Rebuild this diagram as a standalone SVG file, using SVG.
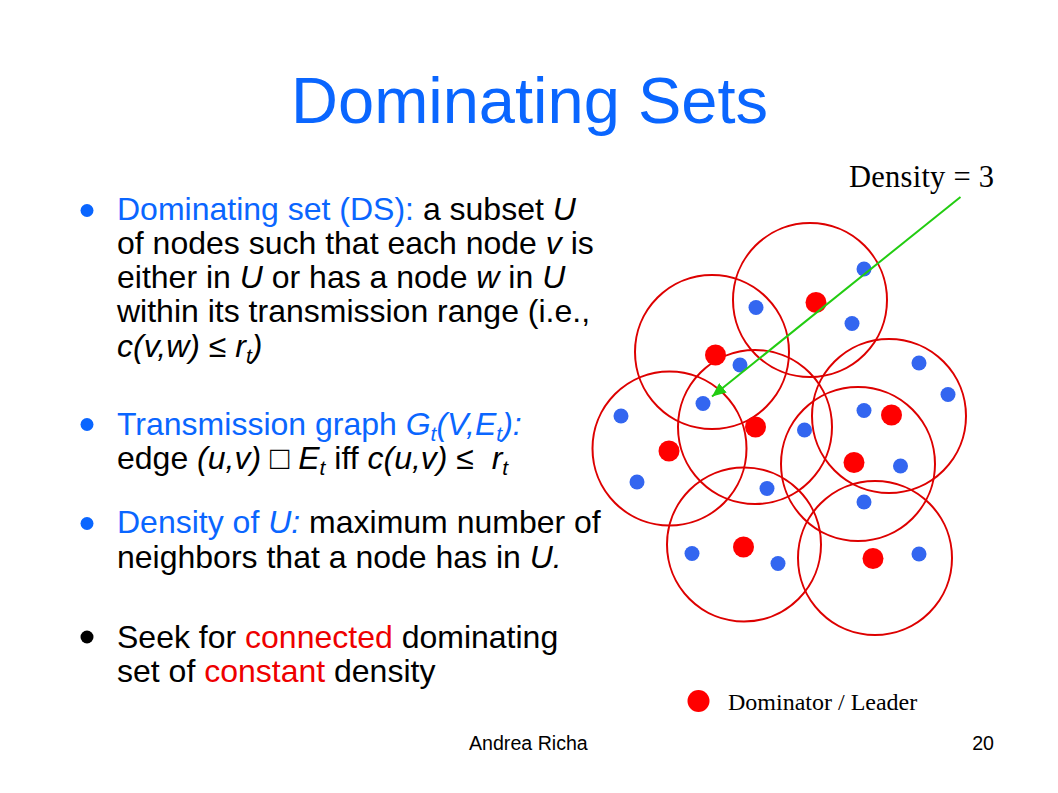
<svg xmlns="http://www.w3.org/2000/svg" width="1058" height="793" viewBox="0 0 1058 793">
<defs>
<style>
.t{font-family:"Liberation Sans",Arial,sans-serif;font-size:32px;fill:#000}
.bl{fill:#0a66ff}
.rd{fill:#ee0000}
.i{font-style:italic}
.sub{font-size:21px}
.ser{font-family:"Liberation Serif","Times New Roman",serif;fill:#000}
.rng{fill:none;stroke:#dd0000;stroke-width:2}
.dom{fill:#ff0000}
.nd{fill:#3366f0}
</style>
<marker id="ah" markerWidth="16" markerHeight="12" refX="14" refY="6" orient="auto" markerUnits="userSpaceOnUse">
<path d="M0,0 L14,6 L0,12 Z" fill="#22cc11"/>
</marker>
</defs>
<rect width="1058" height="793" fill="#fff"/>
<g id="title">
<text x="529.5" y="123" text-anchor="middle" font-family="Liberation Sans, Arial, sans-serif" font-size="65" fill="#0a66ff">Dominating Sets</text>
</g>
<g id="bullets">
<circle cx="87" cy="210.5" r="6.5" fill="#0a66ff"/>
<circle cx="87" cy="424.5" r="6.5" fill="#0a66ff"/>
<circle cx="87" cy="523.5" r="6.5" fill="#0a66ff"/>
<circle cx="87" cy="637" r="6.5" fill="#000"/>
</g>
<g id="text1">
<text class="t" x="117" y="219.5" xml:space="preserve"><tspan class="bl">Dominating set (DS):</tspan> a subset <tspan class="i">U</tspan></text>
<text class="t" x="117" y="253.7" xml:space="preserve">of nodes such that each node <tspan class="i">v</tspan> is</text>
<text class="t" x="117" y="288" xml:space="preserve">either in <tspan class="i">U</tspan> or has a node <tspan class="i">w</tspan> in <tspan class="i">U</tspan></text>
<text class="t" x="117" y="322.2" xml:space="preserve">within its transmission range (i.e.,</text>
<text class="t" x="117" y="356.5" xml:space="preserve"><tspan class="i">c(v,w) ≤ r</tspan><tspan class="i sub" dy="6">t</tspan><tspan class="i" dy="-6">)</tspan></text>
</g>
<g id="text2">
<text class="t" x="117" y="434.5" xml:space="preserve"><tspan class="bl">Transmission graph </tspan><tspan class="bl i">G</tspan><tspan class="bl i sub" dy="6">t</tspan><tspan class="bl i" dy="-6">(V,E</tspan><tspan class="bl i sub" dy="6">t</tspan><tspan class="bl i" dy="-6">):</tspan></text>
<text class="t" x="117" y="468.5" xml:space="preserve">edge <tspan class="i">(u,v)</tspan> □ <tspan class="i">E</tspan><tspan class="i sub" dy="6">t</tspan><tspan dy="-6"> iff </tspan><tspan class="i">c(u,v) ≤  r</tspan><tspan class="i sub" dy="6">t</tspan></text>
</g>
<g id="text3">
<text class="t" x="117" y="533" xml:space="preserve"><tspan class="bl">Density of </tspan><tspan class="bl i">U:</tspan> maximum number of</text>
<text class="t" x="117" y="568" xml:space="preserve">neighbors that a node has in <tspan class="i">U.</tspan></text>
</g>
<g id="text4">
<text class="t" x="117" y="647.5" xml:space="preserve">Seek for <tspan class="rd">connected</tspan> dominating</text>
<text class="t" x="117" y="681.5" xml:space="preserve">set of <tspan class="rd">constant</tspan> density</text>
</g>
<g id="ranges">
<circle class="rng" cx="810" cy="300" r="77"/>
<circle class="rng" cx="712" cy="352" r="77"/>
<circle class="rng" cx="755" cy="427" r="77"/>
<circle class="rng" cx="669.5" cy="448.5" r="77"/>
<circle class="rng" cx="889" cy="416" r="77"/>
<circle class="rng" cx="858" cy="464" r="77"/>
<circle class="rng" cx="744" cy="544.5" r="77"/>
<circle class="rng" cx="875" cy="558" r="77"/>
</g>
<g id="nodes">
<circle class="nd" cx="864" cy="269" r="7.5"/>
<circle class="nd" cx="756" cy="307.5" r="7.5"/>
<circle class="nd" cx="852" cy="323.5" r="7.5"/>
<circle class="nd" cx="740" cy="365" r="7.5"/>
<circle class="nd" cx="919" cy="363" r="7.5"/>
<circle class="nd" cx="948" cy="394.5" r="7.5"/>
<circle class="nd" cx="703" cy="403.5" r="7.5"/>
<circle class="nd" cx="621" cy="416" r="7.5"/>
<circle class="nd" cx="864" cy="410.5" r="7.5"/>
<circle class="nd" cx="804.5" cy="430" r="7.5"/>
<circle class="nd" cx="900.5" cy="466" r="7.5"/>
<circle class="nd" cx="637" cy="482" r="7.5"/>
<circle class="nd" cx="767" cy="488.5" r="7.5"/>
<circle class="nd" cx="864" cy="502" r="7.5"/>
<circle class="nd" cx="692" cy="553.5" r="7.5"/>
<circle class="nd" cx="778" cy="563.5" r="7.5"/>
<circle class="nd" cx="919" cy="554" r="7.5"/>
</g>
<g id="dominators">
<circle class="dom" cx="816" cy="302.5" r="10.5"/>
<circle class="dom" cx="715.5" cy="355" r="10.5"/>
<circle class="dom" cx="755.5" cy="427" r="10.5"/>
<circle class="dom" cx="669" cy="451" r="10.5"/>
<circle class="dom" cx="891.5" cy="415" r="10.5"/>
<circle class="dom" cx="854" cy="462.5" r="10.5"/>
<circle class="dom" cx="743.5" cy="547" r="10.5"/>
<circle class="dom" cx="873" cy="558.5" r="10.5"/>
</g>
<g id="connectors">
<line x1="960.5" y1="197" x2="712" y2="396.5" stroke="#22cc11" stroke-width="2" marker-end="url(#ah)"/>
</g>
<g id="density-label">
<text class="ser" x="849" y="187" font-size="30.5" textLength="145" lengthAdjust="spacing">Density = 3</text>
</g>
<g id="legend">
<circle class="dom" cx="698.5" cy="701" r="11"/>
<text class="ser" x="728" y="709.5" font-size="24">Dominator / Leader</text>
</g>
<g id="footer">
<text x="469" y="749.5" font-family="Liberation Sans, Arial, sans-serif" font-size="19.6" fill="#000">Andrea Richa</text>
<text x="994" y="749.5" text-anchor="end" font-family="Liberation Sans, Arial, sans-serif" font-size="19.6" fill="#000">20</text>
</g>
</svg>
